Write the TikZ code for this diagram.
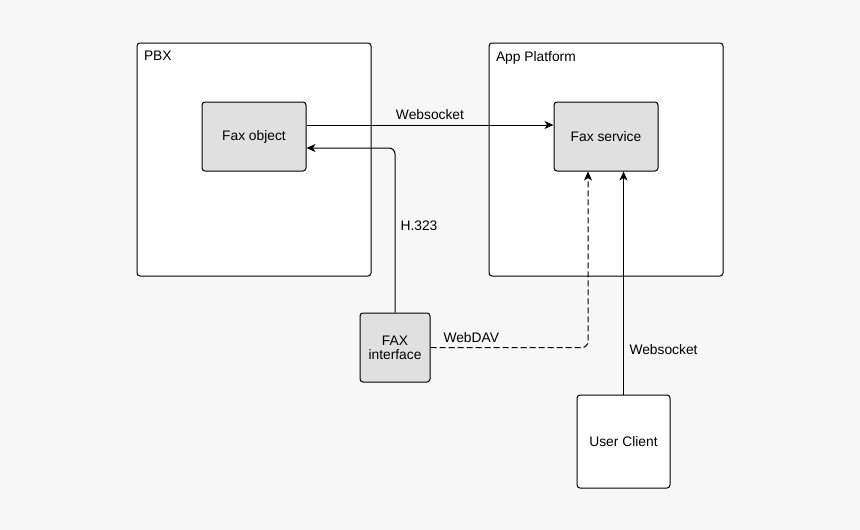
\documentclass[tikz,border=0pt]{standalone}
\usepackage{fontspec}
\setmainfont{Liberation Sans}
\usetikzlibrary{arrows.meta}
\definecolor{bgcol}{HTML}{F7F7F7}
\definecolor{boxgray}{HTML}{E0E0E0}
\begin{document}
\begin{tikzpicture}[x=1pt, y=-1pt,
            every node/.style={font=\fontsize{13.8}{15}\selectfont},
            container/.style={draw, fill=white, rounded corners=3pt, line width=1pt, minimum width=234pt, minimum height=233pt},
            unit/.style={draw, fill=boxgray, rounded corners=3pt, line width=1pt, align=center},
            link/.style={line width=1pt, -{Stealth[length=9pt, width=8pt, inset=2.5pt]}}]
            \fill[bgcol] (0,0) rectangle (860,530);
            \node[container] (pbx) at (254,159.5) {};
            \node[container] (app) at (606,159.5) {};
            \node[anchor=north west] at ([xshift=4pt, yshift=-5pt]pbx.north west) {PBX};
            \node[anchor=north west] at ([xshift=4pt, yshift=-5pt]app.north west) {App Platform};
            \node[unit, minimum width=104pt, minimum height=69pt] (faxobj) at (254,136.5) {Fax object};
            \node[unit, minimum width=104pt, minimum height=69pt] (faxsvc) at (606,136.5) {Fax service};
            \node[unit, minimum width=70pt, minimum height=69pt] (faxif) at (395,347.5) {FAX\\[-1pt]interface};
            \node[draw, fill=white, rounded corners=3pt, line width=1pt, minimum width=93pt, minimum height=93pt] (client) at (623.5,441.5) {User Client};
            \draw[link] ([yshift=11.5pt]faxobj.east) -- ([yshift=11.5pt]faxsvc.west);
            \node[anchor=south] at (430,123) {Websocket};
            \draw[link, rounded corners=6pt] (faxif.north) |- ([yshift=-11.5pt]faxobj.east);
            \node[anchor=west] at (397,226) {H.323};
            \draw[link, dashed, dash pattern=on 6pt off 3pt, rounded corners=6pt] (faxif.east) -| ([xshift=-18pt]faxsvc.south);
            \node[anchor=west] at (440,338) {WebDAV};
            \draw[link] (client.north) -- (client.north |- faxsvc.south);
            \node[anchor=west] at (626,350) {Websocket};
        \end{tikzpicture}
\end{document}
